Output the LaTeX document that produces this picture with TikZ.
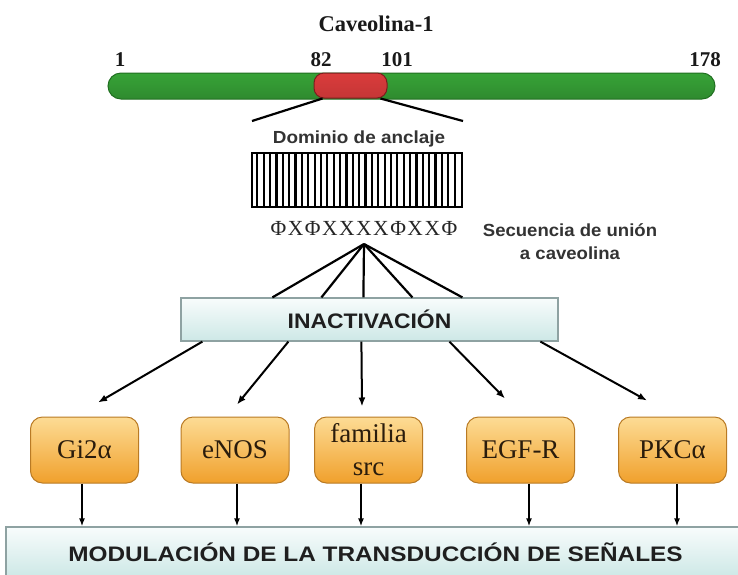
\documentclass[tikz,border=0pt]{standalone}
\usepackage{fontspec}
\usepackage{graphicx}
\setmainfont{Liberation Serif}
\newfontfamily\sansf{Liberation Sans}
\usetikzlibrary{calc,arrows.meta}
\definecolor{gdark}{HTML}{37A337}
\definecolor{glight}{HTML}{A3E6A3}
\definecolor{gbord}{HTML}{216F21}
\definecolor{rdark}{HTML}{DA3C3C}
\definecolor{rlight}{HTML}{F8AAAA}
\definecolor{rbord}{HTML}{7A1E1E}
\definecolor{ortop}{HTML}{FDDC95}
\definecolor{orbot}{HTML}{F0A02C}
\definecolor{orbord}{HTML}{B97A24}
\definecolor{cytop}{HTML}{F8FCFC}
\definecolor{cybot}{HTML}{CDE8E6}
\definecolor{cybord}{HTML}{8EA2A2}
\definecolor{lbl}{HTML}{2A1C0C}
\newcommand{\hs}[2]{\scalebox{#1}[1]{#2}}
\begin{document}
\begin{tikzpicture}[x=1pt,y=-1pt,
  conn/.style={line width=2.2pt, black},
  arr/.style={line width=2pt, black, -{Latex[length=9pt,width=7pt]}},
  darr/.style={line width=2pt, black, -{Latex[length=8pt,width=6pt]}},
  orbox/.style={draw=orbord, line width=1pt, rounded corners=12pt, top color=ortop, bottom color=orbot,
     minimum width=108pt, minimum height=66pt, inner sep=0pt, text=lbl, align=center,
     font=\fontsize{27}{33}\selectfont},
  cybox/.style={draw=cybord, line width=1.2pt, top color=cytop, bottom color=cybot, inner sep=0pt},
  numlbl/.style={anchor=base, font=\bfseries\fontsize{21}{21}\selectfont, text=black!90},
  sanslbl/.style={font=\sansf\bfseries\fontsize{17.5}{23}\selectfont, text=black!80}
]
\useasboundingbox (0,0) rectangle (738,574);
\clip (0,0) rectangle (738,574);
\fill[white] (0,0) rectangle (738,574);

% title and numbers
\node[anchor=base, font=\bfseries\fontsize{22.5}{24}\selectfont, text=black!90] (title) at (376,31) {Caveolina-1};
\node[numlbl] (n1) at (120,66.5) {1};
\node[numlbl] (n82) at (321,66.5) {82};
\node[numlbl] (n101) at (397,66.5) {101};
\node[numlbl] (n178) at (705,66.5) {178};

% protein bar
\node[draw=gbord, line width=1pt, rounded corners=13pt, top color=gdark, middle color=glight, bottom color=gdark!85!black,
  minimum width=607pt, minimum height=26pt, inner sep=0pt] (bar) at (411.5,86) {};
\node[draw=rbord, line width=1pt, rounded corners=10pt, top color=rdark, middle color=rlight, bottom color=rdark!90!black,
  minimum width=73pt, minimum height=25pt, inner sep=0pt] (red) at (350.5,85.5) {};

\coordinate (dl) at (252,121);
\coordinate (dr) at (463,121);
\draw[conn] ($(red.south west)+(9,0)$) -- (dl);
\draw[conn] ($(red.south east)+(-7,0)$) -- (dr);

% domain
\node[sanslbl, anchor=base] (domlbl) at (359,143) {\hs{1.08}{Dominio de anclaje}};
\node[draw, line width=2pt, fill=white, minimum width=210pt, minimum height=54pt, inner sep=0pt] (dom) at (357,180) {};
\foreach \i in {1,...,32}{
  \draw[line width=2.2pt] ($(dom.north west)+(\i*6.3636,0)$) -- ($(dom.south west)+(\i*6.3636,0)$);
}

% sequence
\node[anchor=base, font=\fontsize{21.5}{22}\selectfont\addfontfeature{LetterSpace=7}, text=black!85] (seq) at (364,235) {ΦXΦXXXXΦXXΦ};
\node[sanslbl, align=center] (seclbl) at (570,242) {\hs{1.06}{Secuencia de unión}\\\hs{1.06}{a caveolina}};
\coordinate (apex) at (364,244);

% inactivation
\node[cybox, minimum width=377pt, minimum height=43pt,
  font=\sansf\bfseries\fontsize{21}{21}\selectfont, text=black!88] (inact) at (369.5,319.5) {\hs{1.09}{INACTIVACIÓN}};
\foreach \dx in {92,141,183,232,282}{
  \draw[conn] (apex) -- ($(inact.north west)+(\dx,0)$);
}

% target boxes
\node[orbox] (g) at (84.5,450) {Gi2α};
\node[orbox] (e) at (235,450) {eNOS};
\node[orbox] (f) at (368.5,450) {familia\\src};
\node[orbox] (r) at (520.5,450) {EGF-R};
\node[orbox] (p) at (672.5,450) {PKCα};

\draw[arr] ($(inact.south west)+(22,0)$) -- ($(g.north)+(13.5,-14)$);
\draw[arr] ($(inact.south west)+(108,0)$) -- ($(e.north)+(2,-12)$);
\draw[arr] ($(inact.south west)+(181,0)$) -- ($(f.north)+(-6.5,-10)$);
\draw[arr] ($(inact.south west)+(269,0)$) -- ($(r.north)+(-15.5,-18)$);
\draw[arr] ($(inact.south west)+(360,0)$) -- ($(p.north)+(-25.5,-16)$);

% modulation bar
\node[cybox, minimum width=739pt, minimum height=50pt,
  font=\sansf\bfseries\fontsize{21}{21}\selectfont, text=black!88] (mod) at (375.5,552) {\hs{1.16}{MODULACIÓN DE LA TRANSDUCCIÓN DE SEÑALES}};

\path ($(g.south)+(-2.5,0)$) coordinate (gs);
\path ($(e.south)+(2,0)$) coordinate (es);
\path ($(f.south)+(-7.5,0)$) coordinate (fs);
\path ($(r.south)+(8.5,0)$) coordinate (rs);
\path ($(p.south)+(4.5,0)$) coordinate (ps);
\foreach \c in {gs,es,fs,rs,ps}{
  \draw[darr] (\c) -- (\c |- mod.north);
}
\end{tikzpicture}
\end{document}
